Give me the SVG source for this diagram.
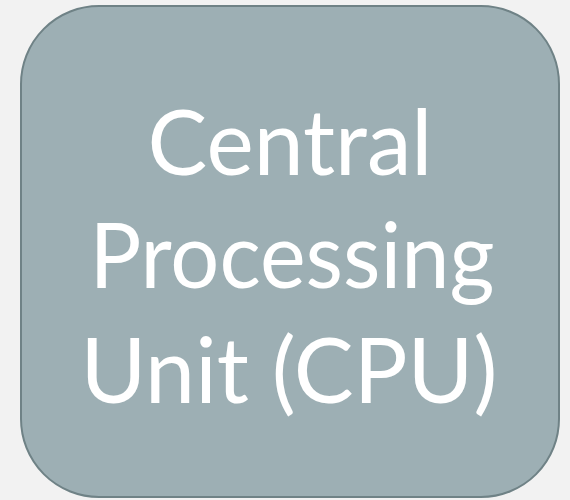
<svg xmlns="http://www.w3.org/2000/svg" width="570" height="500" viewBox="0 0 570 500">
<style>
.box{fill:#9DAFB4;stroke:#6F8286;stroke-width:2}
.lbl{font-family:Lato,"Open Sans","Liberation Sans",sans-serif;font-size:92px;fill:#FFFFFF;text-anchor:middle}
</style>
<rect width="570" height="500" fill="#F2F2F2"/>
<g id="cpu">
<rect class="box" x="21" y="6" width="538" height="491" rx="78" ry="78"/>
<text class="lbl" x="290" y="175" textLength="285" lengthAdjust="spacingAndGlyphs">Central</text>
<text class="lbl" x="292" y="288" textLength="405" lengthAdjust="spacingAndGlyphs">Processing</text>
<text class="lbl" x="289" y="403" textLength="417" lengthAdjust="spacingAndGlyphs">Unit (CPU)</text>
</g>
</svg>
